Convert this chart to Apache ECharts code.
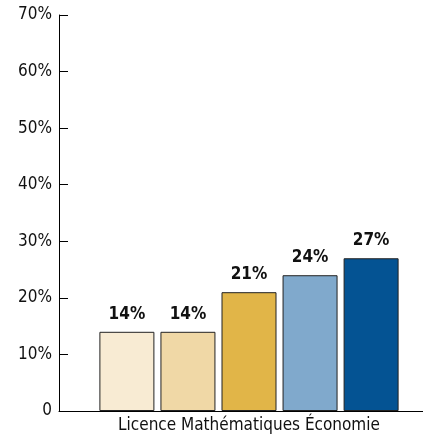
<!DOCTYPE html>
<html>
<head>
<meta charset="utf-8">
<script src="https://cdn.jsdelivr.net/npm/echarts@6/dist/echarts.min.js"></script>
<style>
  html, body { margin: 0; padding: 0; background: #fff; }
  #chart { width: 423px; height: 437px; }
</style>
</head>
<body>
<div id="chart"></div>
<script>
var categories = ['Licence Mathématiques Économie'];
var seriesNames = ['S1', 'S2', 'S3', 'S4', 'S5'];
var seriesValues = [[14], [14], [21], [24], [27]];
var barColors = ['#F8EBD3', '#F0D8A6', '#E1B548', '#80A9CC', '#045393'];
var yTicks = [0, 10, 20, 30, 40, 50, 60, 70];

var FONT = "'DejaVu Sans Condensed', 'Liberation Sans Narrow', 'Liberation Sans', sans-serif";

var myChart = echarts.init(document.getElementById('chart'));

var series = seriesNames.map(function (name, i) {
    return {
        name: name,
        type: 'bar',
        data: seriesValues[i],
        barWidth: 55,
        barGap: '11%',
        itemStyle: { color: barColors[i], borderColor: '#222', borderWidth: 1 },
        label: {
            show: true,
            position: 'top',
            distance: 9,
            formatter: '{c}%',
            color: '#111',
            fontWeight: 'bold',
            fontSize: 17,
            fontFamily: FONT
        }
    };
});

var option = {
    animation: false,
    grid: { left: 59, top: 15, width: 380, height: 396, outerBoundsMode: 'none', containLabel: false },
    xAxis: {
        type: 'category',
        data: categories,
        axisLine: { lineStyle: { color: '#000', width: 1 } },
        axisTick: { show: false },
        axisLabel: { color: '#111', fontSize: 17, fontFamily: FONT, margin: 6 }
    },
    yAxis: {
        type: 'value',
        min: yTicks[0],
        max: yTicks[yTicks.length - 1],
        interval: 10,
        splitLine: { show: false },
        axisLine: { show: true, lineStyle: { color: '#000', width: 1 } },
        axisTick: { show: true, inside: true, length: 9, lineStyle: { color: '#000' } },
        axisLabel: {
            color: '#111',
            fontSize: 17,
            fontFamily: FONT,
            margin: 7,
            formatter: function (v) { return v === 0 ? '0' : v + '%'; }
        }
    },
    series: series
};

myChart.setOption(option);
</script>
</body>
</html>
